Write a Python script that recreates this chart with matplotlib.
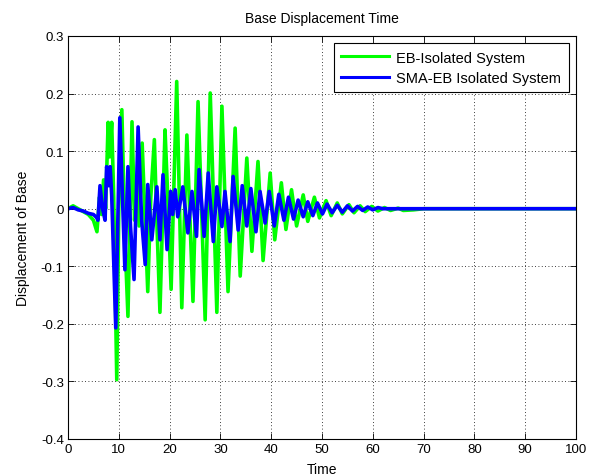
import matplotlib
matplotlib.use("Agg")
import matplotlib.pyplot as plt

plt.rcParams['font.family'] = ['Liberation Sans', 'DejaVu Sans']

# EB-isolated system: peak/trough samples of base displacement
eb_time = [0, 1, 2, 3, 4, 5, 5.7, 6.2, 6.6, 7.0, 7.4, 7.9, 8.2, 8.6, 9.0, 9.6,
           10.0, 10.6, 11.2, 11.8, 12.6, 13.1, 13.6, 14.0, 14.6, 15.7, 16.3,
           17.0, 17.4, 18.1, 19.1, 19.5, 20.3, 21.4, 22.4, 23.4, 24.6, 25.6,
           27.0, 28.0, 29.3, 30.3, 31.5, 32.9, 33.9, 35.2, 36.2, 37.4, 38.4,
           39.8, 40.7, 42.0, 42.9, 44.0, 45.0, 46.3, 47.2, 48.5, 49.5, 50.8,
           51.8, 53.0, 54.0, 55.3, 56.3, 57.5, 58.5, 59.8, 61.0, 62.3, 63.5,
           65.0, 66.0, 68.0, 70.0, 100.0]
eb_disp = [0, 0.005, 0.0, -0.005, -0.01, -0.02, -0.04, 0.02, -0.01, 0.05, 0.0,
           0.15, 0.09, 0.15, 0.02, -0.297, 0.0, 0.172, -0.05, -0.187, 0.151,
           -0.02, 0.05, -0.03, 0.114, -0.144, 0.02, 0.12, 0.0, -0.18, 0.137,
           0.05, -0.14, 0.221, -0.172, 0.128, -0.161, 0.186, -0.193, 0.201,
           -0.18, 0.178, -0.144, 0.14, -0.117, 0.088, -0.074, 0.082, -0.09,
           0.062, -0.054, 0.045, -0.036, 0.033, -0.03, 0.024, -0.022, 0.02,
           -0.016, 0.014, -0.012, 0.01, -0.009, 0.007, -0.007, 0.005, -0.005,
           0.004, -0.004, 0.002, -0.003, 0.001, -0.003, -0.002, 0.0, 0.0]

# SMA-EB isolated system: peak/trough samples of base displacement
sma_time = [0, 1, 2, 3, 4, 5, 5.6, 5.9, 6.3, 6.8, 7.3, 7.6, 8.0, 8.3, 8.6, 9.4,
            10.2, 11.2, 11.8, 12.3, 13.0, 13.8, 14.5, 15.2, 15.7, 16.5, 17.5,
            18.1, 18.7, 19.5, 20.2, 20.6, 21.1, 21.6, 22.6, 23.6, 24.4, 25.3,
            25.8, 26.8, 27.6, 28.6, 29.3, 30.3, 30.9, 31.9, 32.5, 33.5, 34.3,
            35.2, 36.0, 37.0, 37.8, 38.8, 39.6, 40.6, 41.5, 42.5, 43.4, 44.4,
            45.3, 46.3, 47.2, 48.2, 49.1, 50.1, 51.0, 52.0, 53.0, 54.0, 55.0,
            56.0, 57.0, 58.0, 59.0, 60.0, 61.0, 62.0, 100.0]
sma_disp = [0, 0.002, -0.002, -0.004, -0.008, -0.01, -0.015, -0.02, 0.04, 0.0,
            -0.02, 0.073, 0.04, 0.073, 0.023, -0.207, 0.158, -0.106, 0.073,
            -0.03, -0.123, 0.142, -0.02, -0.097, 0.042, -0.054, 0.038, -0.054,
            0.059, -0.071, 0.03, -0.01, 0.033, -0.014, 0.038, -0.042, 0.03,
            -0.048, 0.068, -0.048, 0.062, -0.057, 0.038, -0.031, 0.03, -0.057,
            0.056, -0.037, 0.04, -0.03, 0.035, -0.04, 0.03, -0.025, 0.03,
            -0.03, 0.025, -0.02, 0.02, -0.018, 0.015, -0.014, 0.012, -0.012,
            0.01, -0.009, 0.008, -0.007, 0.006, -0.006, 0.005, -0.004, 0.004,
            -0.003, 0.003, -0.002, 0.002, 0.0, 0.0]

x_ticks = [0, 10, 20, 30, 40, 50, 60, 70, 80, 90, 100]
y_ticks = [-0.4, -0.3, -0.2, -0.1, 0, 0.1, 0.2, 0.3]
y_tick_labels = ['-0.4', '-0.3', '-0.2', '-0.1', '0', '0.1', '0.2', '0.3']

fig = plt.figure(figsize=(5.89, 4.77), dpi=100)
ax = fig.add_axes([68 / 589, 37 / 477, 508 / 589, 403 / 477])

ax.plot(eb_time, eb_disp, color='#00ff00', lw=2.6, label='EB-Isolated System')
ax.plot(sma_time, sma_disp, color='#0000ff', lw=2.6, label='SMA-EB Isolated System')

ax.set_xlim(0, 100)
ax.set_ylim(-0.4, 0.3)
ax.set_xticks(x_ticks)
ax.set_xticklabels([str(v) for v in x_ticks])
ax.set_yticks(y_ticks)
ax.set_yticklabels(y_tick_labels)
ax.tick_params(direction='in', top=True, right=True, length=4, width=0.6,
               labelsize=9.5, pad=3)
ax.grid(True, linestyle=(0, (1, 3)), color='black', linewidth=0.6)
for s in ax.spines.values():
    s.set_linewidth(0.8)

ax.set_title('Base Displacement Time', fontsize=10, pad=10)
ax.set_xlabel('Time', fontsize=10, labelpad=5)
ax.set_ylabel('Displacement of Base', fontsize=10, labelpad=8)

leg = ax.legend(loc='upper right', fontsize=10.5, frameon=True, fancybox=False,
                edgecolor='black', framealpha=1, borderpad=0.5,
                handlelength=3.3, handletextpad=0.5, labelspacing=0.45,
                borderaxespad=0.5)
leg.get_frame().set_linewidth(0.8)
for line in leg.get_lines():
    line.set_linewidth(2.2)

fig.savefig('out.png', dpi=100)
